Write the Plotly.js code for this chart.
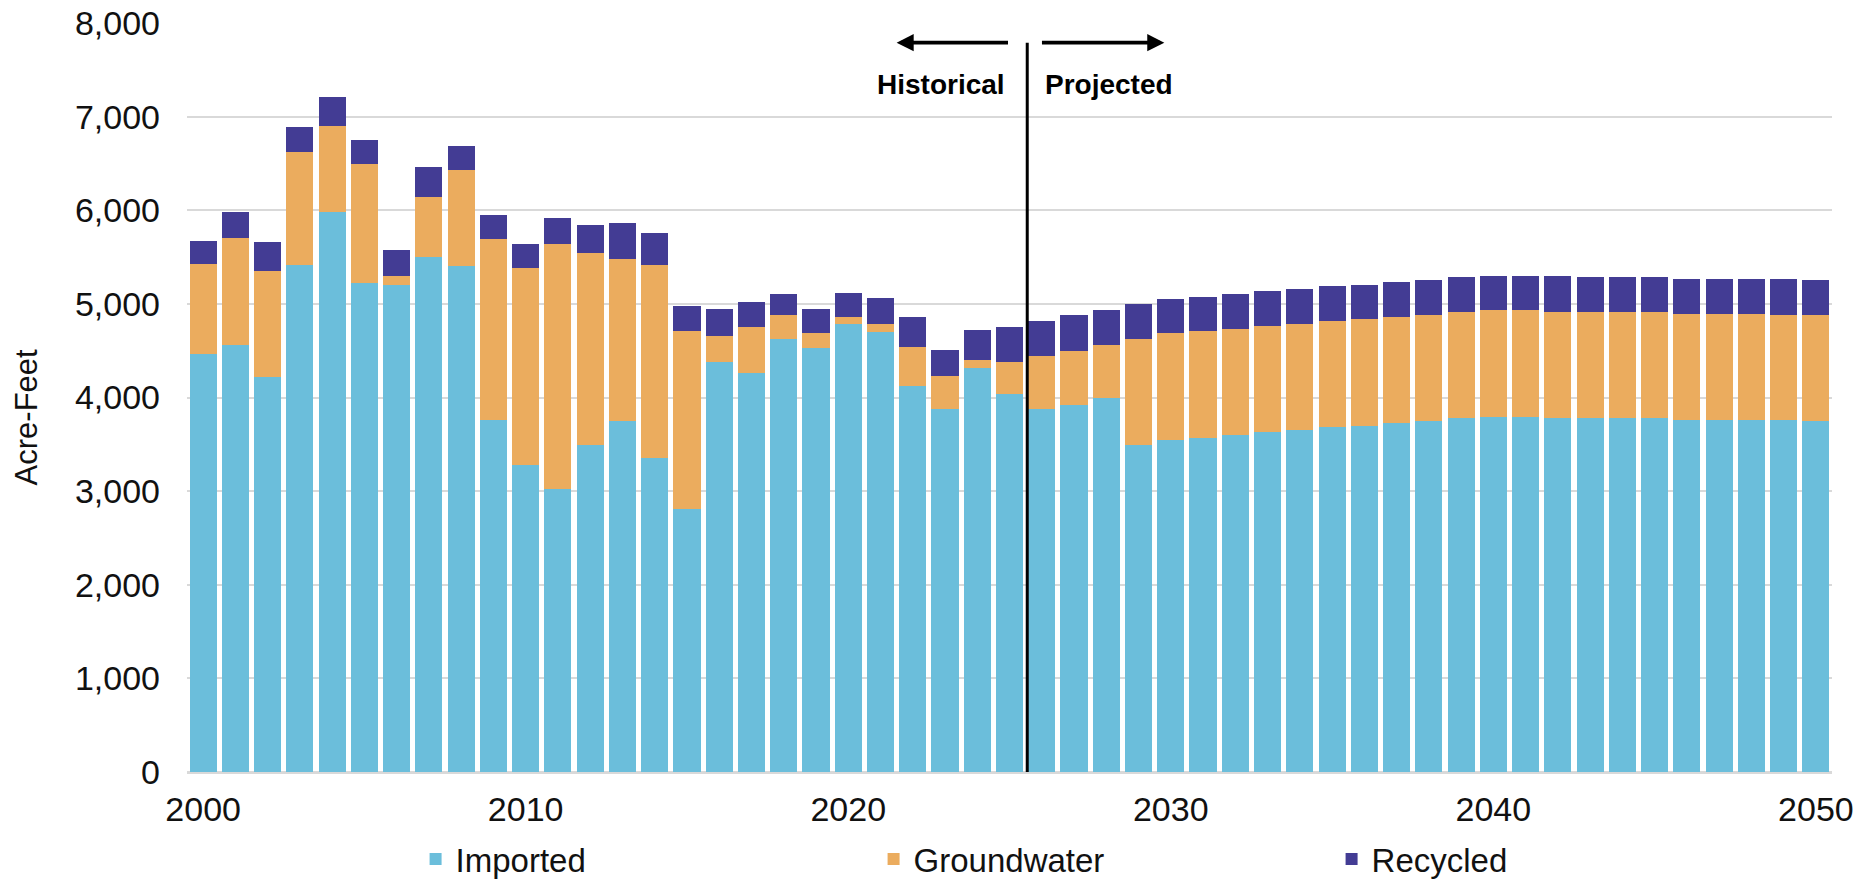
<!DOCTYPE html>
<html>
<head>
<meta charset="utf-8">
<script src="https://cdn.plot.ly/plotly-3.0.1.min.js"></script>
<style>
  html, body { margin: 0; padding: 0; background: #ffffff; }
  #chart { width: 1872px; height: 882px; }
</style>
</head>
<body>
<div id="chart"></div>
<script>
// ---- Data ----
const years = [
  2000, 2001, 2002, 2003, 2004, 2005, 2006, 2007, 2008, 2009,
  2010, 2011, 2012, 2013, 2014, 2015, 2016, 2017, 2018, 2019,
  2020, 2021, 2022, 2023, 2024, 2025, 2026, 2027, 2028, 2029,
  2030, 2031, 2032, 2033, 2034, 2035, 2036, 2037, 2038, 2039,
  2040, 2041, 2042, 2043, 2044, 2045, 2046, 2047, 2048, 2049, 2050
];

const imported = [
  4460, 4560, 4220, 5410, 5980, 5220, 5200, 5500, 5400, 3765,
  3280, 3020, 3490, 3745, 3355, 2805, 4380, 4265, 4625, 4525,
  4785, 4700, 4125, 3880, 4315, 4040, 3875, 3925, 3995, 3490,
  3550, 3570, 3600, 3630, 3650, 3680, 3700, 3730, 3745, 3780,
  3795, 3795, 3780, 3780, 3780, 3780, 3765, 3765, 3765, 3765, 3745
];

const groundwater = [
  970, 1140, 1130, 1210, 920, 1275, 100, 640, 1030, 1925,
  2100, 2620, 2050, 1735, 2060, 1900, 275, 485, 255, 160,
  80, 85, 415, 355, 85, 340, 570, 570, 565, 1135,
  1135, 1135, 1135, 1135, 1135, 1135, 1135, 1135, 1135, 1130,
  1135, 1135, 1130, 1130, 1130, 1130, 1130, 1130, 1130, 1115, 1135
];

const recycled = [
  240, 280, 310, 265, 310, 255, 275, 325, 260, 255,
  260, 275, 305, 385, 340, 270, 290, 275, 225, 255,
  255, 275, 325, 275, 320, 370, 370, 385, 370, 370,
  370, 370, 370, 370, 370, 375, 370, 370, 375, 375,
  370, 370, 390, 375, 375, 375, 370, 370, 370, 390, 375
];

const seriesNames = ["Imported", "Groundwater", "Recycled"];
const seriesColors = ["#6BBEDB", "#EBAC5E", "#433C94"];
const yTitle = "Acre-Feet";

// Divider between historical and projected periods
const dividerYear = 2025.55;
const dividerTop = 7790;
const historicalLabel = "Historical";
const projectedLabel = "Projected";
const arrowLeftTip = 2021.5;
const arrowLeftTail = 2025.0;
const arrowRightTail = 2025.96;
const arrowRightTip = 2029.8;

const FONT = "Liberation Sans, Arial, sans-serif";

const seriesValues = [imported, groundwater, recycled];
const traces = seriesValues.map((vals, i) => ({
  type: "bar",
  name: seriesNames[i],
  x: years,
  y: vals,
  marker: { color: seriesColors[i] },
  hovertemplate: "%{x}: %{y:,}<extra>" + seriesNames[i] + "</extra>"
}));

const layout = {
  width: 1872,
  height: 882,
  margin: { l: 187, r: 40, t: 23, b: 110 },
  paper_bgcolor: "#ffffff",
  plot_bgcolor: "#ffffff",
  barmode: "stack",
  bargap: 0.16,
  font: { family: FONT, color: "#111111", size: 33 },
  xaxis: {
    type: "linear",
    range: [1999.5, 2050.5],
    tick0: 2000,
    dtick: 10,
    showgrid: false,
    zeroline: false,
    showline: false,
    ticks: "",
    ticklabelstandoff: 14,
    tickfont: { family: FONT, size: 34, color: "#111111" }
  },
  yaxis: {
    range: [0, 8000],
    dtick: 1000,
    tickformat: ",",
    showgrid: true,
    gridcolor: "#D9D9D9",
    gridwidth: 2,
    zeroline: true,
    zerolinecolor: "#D9D9D9",
    zerolinewidth: 2.5,
    showline: false,
    ticks: "",
    ticklabelstandoff: 26,
    tickfont: { family: FONT, size: 34, color: "#111111" }
  },
  legend: {
    orientation: "h",
    xref: "container",
    yref: "container",
    x: 0.222,
    xanchor: "left",
    y: 0.026,
    yanchor: "middle",
    entrywidth: 413,
    entrywidthmode: "pixels",
    traceorder: "normal",
    font: { family: FONT, size: 33, color: "#111111" },
    bgcolor: "rgba(0,0,0,0)"
  },
  shapes: [
    {
      type: "line",
      xref: "x", yref: "y",
      x0: dividerYear, x1: dividerYear,
      y0: 0, y1: dividerTop,
      line: { color: "#000000", width: 3 }
    }
  ],
  annotations: [
    {
      xref: "paper", yref: "paper",
      x: -0.097, y: 0.474,
      xanchor: "center", yanchor: "middle",
      text: yTitle, textangle: -90, showarrow: false,
      font: { family: FONT, size: 31, color: "#111111" }
    },
    {
      xref: "x", yref: "y", axref: "x", ayref: "y",
      x: arrowLeftTip, y: dividerTop,
      ax: arrowLeftTail, ay: dividerTop,
      text: "", showarrow: true,
      arrowhead: 2, arrowsize: 0.95, arrowwidth: 3.6, arrowcolor: "#000000",
      standoff: 0, startstandoff: 0
    },
    {
      xref: "x", yref: "y", axref: "x", ayref: "y",
      x: arrowRightTip, y: dividerTop,
      ax: arrowRightTail, ay: dividerTop,
      text: "", showarrow: true,
      arrowhead: 2, arrowsize: 0.95, arrowwidth: 3.6, arrowcolor: "#000000",
      standoff: 0, startstandoff: 0
    },
    {
      xref: "x", yref: "y",
      x: 2024.93, y: 7340,
      xanchor: "right", yanchor: "middle",
      text: "<b>" + historicalLabel + "</b>",
      showarrow: false,
      font: { family: FONT, size: 28, color: "#000000" }
    },
    {
      xref: "x", yref: "y",
      x: 2026.05, y: 7340,
      xanchor: "left", yanchor: "middle",
      text: "<b>" + projectedLabel + "</b>",
      showarrow: false,
      font: { family: FONT, size: 28, color: "#000000" }
    }
  ]
};

Plotly.newPlot("chart", traces, layout, { displayModeBar: false, responsive: false });
</script>
</body>
</html>
